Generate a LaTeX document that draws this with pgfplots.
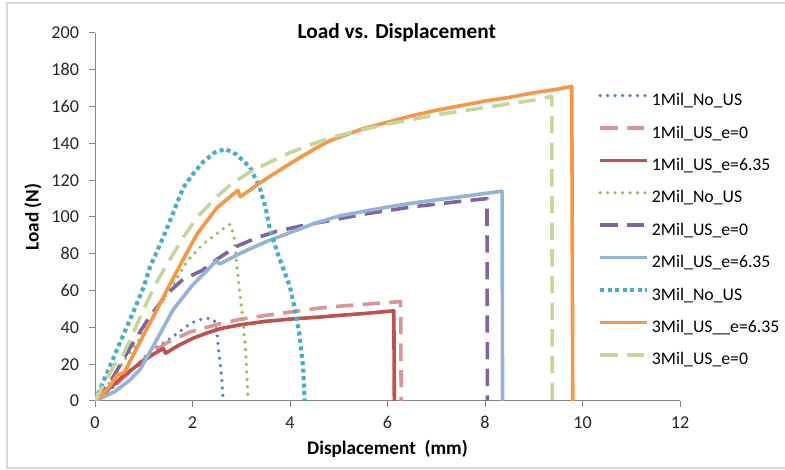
\documentclass[border=0pt]{standalone}
\usepackage{fontspec}
\setmainfont{Carlito}
\usepackage{pgfplots}
\pgfplotsset{compat=1.18}

\definecolor{cA}{HTML}{4F81BD}
\definecolor{cB}{HTML}{D99694}
\definecolor{cC}{HTML}{C0504D}
\definecolor{cD}{HTML}{9BBB59}
\definecolor{cE}{HTML}{8064A2}
\definecolor{cF}{HTML}{95B3D7}
\definecolor{cG}{HTML}{4BACC6}
\definecolor{cH}{HTML}{F79646}
\definecolor{cI}{HTML}{C3D69B}
\definecolor{axgray}{HTML}{868686}

\begin{document}
\begin{tikzpicture}
\useasboundingbox (0,0) rectangle (588.75pt,352.5pt);
\draw[black!15, line width=0.8pt] (5.25pt,1.5pt) rectangle (592pt,350.25pt);
\begin{axis}[
    at={(71.25pt,51.75pt)}, anchor=south west,
    scale only axis, width=438.75pt, height=276pt,
    xmin=0, xmax=12, ymin=0, ymax=200,
    axis x line*=bottom, axis y line*=left,
    xtick={0,2,...,12}, ytick={0,20,...,200},
    tick align=outside, major tick length=4.5pt,
    axis line style={draw=axgray, line width=0.75pt},
    tick style={draw=axgray, line width=0.75pt},
    tick label style={font=\fontsize{13.6}{16}\selectfont, text=black!85},
    /pgf/number format/assume math mode=true,
    yticklabel style={xshift=-4pt},
    xticklabel style={yshift=-3.5pt},
    title={Load vs. Displacement},
    title style={font=\bfseries\fontsize{16}{19}\selectfont, at={(axis description cs:0.516,1.008)}, anchor=center, yshift=-8pt},
    xlabel={Displacement\ \ (mm)},
    ylabel={Load (N)},
    label style={font=\bfseries\fontsize{14.4}{17}\selectfont},
    xlabel style={at={(axis description cs:0.5,-0.13)}, anchor=center},
    ylabel style={at={(axis description cs:-0.106,0.5)}, anchor=center},
    legend cell align=left,
    legend image code/.code={\draw[#1] (0pt,4.3pt) -- (35.25pt,4.3pt);},
    legend style={at={(axis description cs:0.86,0.837)}, anchor=north west,
        draw=none, fill=none, inner sep=0pt, outer sep=0pt,
        font=\fontsize{13.3}{16}\selectfont,
        nodes={inner sep=0pt, text height=9.5pt, text depth=3pt},
        row sep=11.8pt, column sep=2pt},
    every axis plot/.append style={line width=2.7pt, line join=round},
  ]
  % 1Mil_No_US
  \addplot[cA, line cap=round, dash pattern=on 0pt off 5.6pt] coordinates {
    (0,0) (0.45,9) (0.8,18) (1.13,27) (1.4,31.5) (1.6,35) (1.8,39) (1.95,42)
    (2.1,43.8) (2.2,44.5) (2.35,45) (2.45,43.5) (2.5,38) (2.53,29) (2.57,20)
    (2.6,12) (2.63,0)
  };
  % 1Mil_US_e=0
  \addplot[cB, line cap=butt, dash pattern=on 13pt off 7pt] coordinates {
    (0,0) (0.3,6) (0.6,13) (0.92,20.6) (1.2,27) (1.5,32) (1.95,37.5) (2.56,42)
    (3,44.5) (3.5,46.5) (4,48.3) (4.6,50.5) (5,51.5) (5.5,52.5) (6,53.5)
    (6.27,54) (6.28,0)
  };
  % 1Mil_US_e=6.35
  \addplot[cC] coordinates {
    (0,0) (0.3,7) (0.6,14) (0.9,20) (1.2,25.5) (1.4,28.5) (1.45,26) (1.7,30)
    (2,34) (2.3,37) (2.6,39.5) (3,41.5) (3.5,43.3) (4,44.5) (4.6,45.6)
    (5,46.5) (5.5,47.5) (6.13,49) (6.14,0)
  };
  % 2Mil_No_US
  \addplot[cD, line cap=round, dash pattern=on 0pt off 5.6pt] coordinates {
    (0,0) (0.3,10) (0.6,22) (0.9,33) (1.27,50) (1.6,63) (1.89,76) (2.2,85)
    (2.5,91) (2.7,95) (2.77,96) (2.85,90) (2.9,76) (2.97,59) (3.03,45)
    (3.08,31) (3.11,18) (3.14,0)
  };
  % 2Mil_US_e=0
  \addplot[cE, line cap=butt, dash pattern=on 13pt off 7pt] coordinates {
    (0,0) (0.35,12) (0.72,29) (1.1,45) (1.47,58) (1.8,66) (2.2,71) (2.5,77)
    (2.9,84) (3.3,88.5) (3.7,92) (4.2,95) (4.8,98) (5.5,101.5) (6,103.5)
    (6.5,105.5) (7,107) (7.5,108.5) (8.04,110) (8.05,0)
  };
  % 2Mil_US_e=6.35
  \addplot[cF] coordinates {
    (0,0) (0.4,5) (0.7,11) (0.92,17) (1.2,30) (1.6,49.5) (2,63) (2.3,71)
    (2.5,76.5) (2.54,74.5) (2.6,75) (3,80.5) (3.5,86.5) (4,91.5) (4.5,96.5)
    (5,100.5) (5.5,103) (6,105.4) (6.5,107.5) (7,109.3) (7.5,111) (8,112.8)
    (8.35,114) (8.36,0)
  };
  % 3Mil_No_US
  \addplot[cG, line width=3.1pt, line cap=butt, dash pattern=on 3pt off 2.6pt] coordinates {
    (0,0) (0.3,18.5) (0.55,34) (0.78,48) (1,62) (1.13,73) (1.4,89) (1.6,102)
    (1.81,116) (2,123) (2.22,130) (2.45,135) (2.67,137) (2.9,134) (3.18,127)
    (3.38,116) (3.5,105) (3.59,93) (3.75,80) (4,62) (4.1,50) (4.2,35)
    (4.27,18) (4.3,0)
  };
  % 3Mil_US__e=6.35
  \addplot[cH] coordinates {
    (0,0) (0.1,2) (0.3,8) (0.45,14) (0.55,15) (0.6,15.5) (0.9,31) (1.2,46)
    (1.47,60) (1.81,77) (2.1,91) (2.5,105) (2.75,110.5) (2.93,114.5)
    (2.98,111) (3.2,115) (3.38,118.5) (3.7,124) (4,129) (4.5,137) (4.82,141.5)
    (5.5,148) (6,151.5) (6.5,155) (7,158) (7.5,160.5) (8,163) (8.5,165)
    (9,167.5) (9.5,169.5) (9.78,171) (9.8,0)
  };
  % 3Mil_US_e=0
  \addplot[cI, line cap=butt, dash pattern=on 13pt off 7pt] coordinates {
    (0,0) (0.2,10) (0.45,22) (0.55,24) (0.72,33) (1,50) (1.27,65) (1.54,77)
    (1.81,89) (2.1,100) (2.5,111) (2.8,118) (3.18,124.5) (3.6,130) (4,135)
    (4.5,140) (4.82,143) (5.5,147.5) (6,150.5) (6.5,153) (7,155.5) (7.5,157.5)
    (8,159.5) (8.5,161.5) (9,163.5) (9.37,165.5) (9.38,0)
  };
  \legend{1Mil\_No\_US, 1Mil\_US\_e=0, 1Mil\_US\_e=6.35, 2Mil\_No\_US,
    2Mil\_US\_e=0, 2Mil\_US\_e=6.35, 3Mil\_No\_US, 3Mil\_US\_\_e=6.35,
    3Mil\_US\_e=0}
\end{axis}
\end{tikzpicture}
\end{document}
